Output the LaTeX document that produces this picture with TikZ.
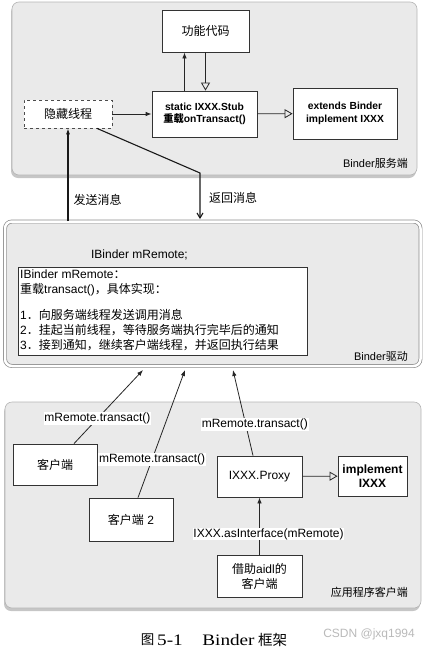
\documentclass[tikz,border=0pt]{standalone}
\usepackage{fontspec}
\setmainfont{Liberation Sans}
\newfontfamily\cjk{Noto Sans CJK SC}
\newfontfamily\serifrm{Liberation Serif}
\usetikzlibrary{arrows.meta,shadows}
\definecolor{panelgray}{HTML}{EAEAEA}
\definecolor{edgegray}{HTML}{B5B5B5}
\definecolor{midline}{HTML}{8C8C8C}
\newcommand\zh[1]{{\cjk #1}}
\begin{document}
\begin{tikzpicture}[x=1pt,y=-1pt,
  font=\fontsize{12}{15}\selectfont,
  panel/.style={draw=edgegray, fill=panelgray, rounded corners=7pt, line width=0.6pt,
    drop shadow={shadow xshift=-1pt,shadow yshift=-3pt,opacity=0.45}},
  box/.style={draw=black!80, fill=white, line width=0.8pt, inner sep=0pt, align=center},
  boldbox/.style={box, font=\fontsize{10.3}{12.5}\selectfont\bfseries},
  conn/.style={line width=0.8pt, draw=black!85},
  heavy/.style={line width=1.1pt, draw=black!90},
  fill arrow/.style={-{Latex[length=6pt,width=4.5pt]}},
  hollow arrow/.style={-{Triangle[open,length=8pt,width=9pt]}},
  lbl/.style={inner sep=1pt},
  panellbl/.style={inner sep=1pt, anchor=east, font=\fontsize{11}{13}\selectfont},
  wlbl/.style={fill=white, inner sep=0.8pt},
  captxt/.style={inner sep=0pt}
]
\useasboundingbox (0,0) rectangle (433,651);

% ---------- panels ----------
\node[panel, minimum width=405pt, minimum height=173pt] (server) at (214.5,88.5) {};
\node[draw=midline, double=white, double distance=2.5pt, line width=0.7pt, fill=panelgray,
      rounded corners=7pt, minimum width=415.5pt, minimum height=144.5pt] (driver) at (212.75,293.75) {};
\node[panel, minimum width=416pt, minimum height=206pt] (client) at (213,505) {};

% ---------- server side ----------
\node[box, minimum width=87pt, minimum height=42pt] (func) at (205.5,31) {\zh{功能代码}};
\node[boldbox, minimum width=105pt, minimum height=46pt] (stub) at (204.5,114)
  {static IXXX.Stub\\\zh{重载}onTransact()};
\node[boldbox, minimum width=104pt, minimum height=51pt] (ext) at (345,113.5)
  {extends Binder\\implement IXXX};
\node[box, dashed, draw=black!70, minimum width=88pt, minimum height=28pt] (hidden) at (68,114) {\zh{隐藏线程}};
\node[panellbl] (serverlbl) at (409,163) {Binder\zh{服务端}};

\draw[conn, fill arrow] (hidden) -- (stub);
\draw[conn, hollow arrow] (stub) -- (ext);
\draw[conn, fill arrow] ([xshift=-20pt]stub.north) coordinate (su) -- (su |- func.south);
\draw[conn, hollow arrow] (func.south) -- (func.south |- stub.north);

% ---------- messages ----------
\coordinate (send) at (68,221);
\coordinate (rb) at (200,173);
\coordinate (rend) at (200,219);
\draw[heavy, -{Latex[length=6pt,width=4pt]}] (send) -- (hidden.south);
\draw[heavy, -{Straight Barb[length=5pt,width=6pt]}] ([xshift=29pt]hidden.south) -- (rb) -- (rend);
\node[lbl] (sendlbl) at (97.5,200) {\zh{发送消息}};
\node[lbl] (retlbl) at (233,198) {\zh{返回消息}};

% ---------- driver ----------
\node[lbl] (mrem) at (139.5,255) {IBinder mRemote;};
\node[box, minimum width=289pt, minimum height=88pt] (impl) at (162.5,311) {};
\node[lbl, anchor=north west, align=left, inner sep=0pt, font=\fontsize{12}{15}\selectfont] (impltext) at (20,270)
  {IBinder mRemote\zh{：}\\
   \zh{重载}transact()\zh{，具体实现：}\\[11pt]
   1\zh{．向服务端线程发送调用消息}\\
   2\zh{．挂起当前线程，等待服务端执行完毕后的通知}\\
   3\zh{．接到通知，继续客户端线程，并返回执行结果}};
\node[panellbl] (driverlbl) at (409,356) {Binder\zh{驱动}};

% ---------- client side ----------
\node[box, minimum width=84pt, minimum height=41pt] (c1) at (55,464.5) {\zh{客户端}};
\node[box, minimum width=84pt, minimum height=43pt] (c2) at (131,519.5) {\zh{客户端} 2};
\node[box, minimum width=85pt, minimum height=41pt] (proxy) at (259.5,476.5) {IXXX.Proxy};
\node[box, font=\fontsize{12}{13.5}\selectfont\bfseries, minimum width=69pt, minimum height=40pt] (implx) at (372.5,476) {implement\\IXXX};
\node[box, minimum width=85pt, minimum height=42pt] (aidl) at (259.5,576) {\zh{借助}aidl\zh{的}\\\zh{客户端}};
\node[panellbl] (clientlbl) at (409,592) {\zh{应用程序客户端}};

\coordinate (t1) at (143,370);
\coordinate (t2) at (185,370);
\coordinate (t3) at (233,370);
\draw[conn, fill arrow] ([xshift=19pt]c1.north) -- node[wlbl, pos=0.34] {mRemote.transact()} (t1);
\draw[conn, fill arrow] ([xshift=7pt]c2.north) -- node[wlbl, pos=0.3] {mRemote.transact()} (t2);
\draw[conn, fill arrow] ([xshift=-6.5pt]proxy.north) -- node[wlbl, pos=0.36, xshift=9pt] {mRemote.transact()} (t3);
\draw[conn, hollow arrow] (proxy) -- (implx);
\draw[conn, fill arrow] (aidl) -- node[wlbl, pos=0.36, xshift=9pt] {IXXX.asInterface(mRemote)} (proxy);

% ---------- caption ----------
\node[captxt, font=\fontsize{13.5}{16}\cjk] (capfig) at (147.5,640) {图};
\node[captxt, font=\fontsize{16}{18}\serifrm] (capnum) at (170,640.5) {\scalebox{1.2}[1]{5-1}};
\node[captxt, font=\fontsize{16}{18}\serifrm] (capname) at (228.5,640.5) {\scalebox{1.2}[1]{Binder}};
\node[captxt, font=\fontsize{14.5}{16}\cjk] (capfw) at (272.5,640) {框架};
\node[lbl, anchor=east, text=gray!55, font=\fontsize{12}{14}\selectfont] (csdn) at (416,634) {CSDN @jxq1994};
\end{tikzpicture}
\end{document}
